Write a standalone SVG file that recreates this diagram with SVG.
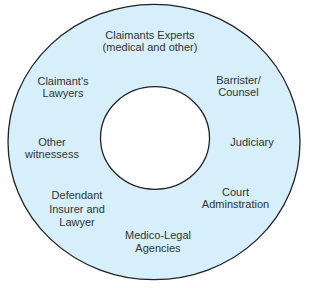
<svg xmlns="http://www.w3.org/2000/svg" width="309" height="288" viewBox="0 0 309 288">
<style>
.ring{fill:#d6effa;stroke:#222;stroke-width:1.3}
.hole{fill:#fff;stroke:#222;stroke-width:1.3}
text{font-family:"Liberation Sans",Arial,sans-serif;font-size:11px;fill:#333;text-anchor:middle}
</style>
<rect width="309" height="288" fill="#fff"/>
<g id="ring">
<ellipse class="ring" cx="154" cy="142" rx="146" ry="137.7"/>
<ellipse class="hole" cx="155" cy="138" rx="54.5" ry="51.3"/>
</g>
<g id="claimants-experts"><text x="150" y="39">Claimants Experts</text><text x="150" y="51">(medical and other)</text></g>
<g id="claimants-lawyers"><text x="63" y="85">Claimant's</text><text x="63" y="97">Lawyers</text></g>
<g id="barrister"><text x="238.5" y="83.5">Barrister/</text><text x="238.5" y="95.7">Counsel</text></g>
<g id="other-witnesses"><text x="52" y="146">Other</text><text x="52" y="158">witnessess</text></g>
<g id="judiciary"><text x="252" y="145.7">Judiciary</text></g>
<g id="defendant"><text x="77" y="199">Defendant</text><text x="77" y="212.5">Insurer and</text><text x="77" y="226">Lawyer</text></g>
<g id="court"><text x="235.5" y="196">Court</text><text x="235.5" y="208.3">Adminstration</text></g>
<g id="medico-legal"><text x="158" y="239">Medico-Legal</text><text x="158" y="252">Agencies</text></g>
</svg>
